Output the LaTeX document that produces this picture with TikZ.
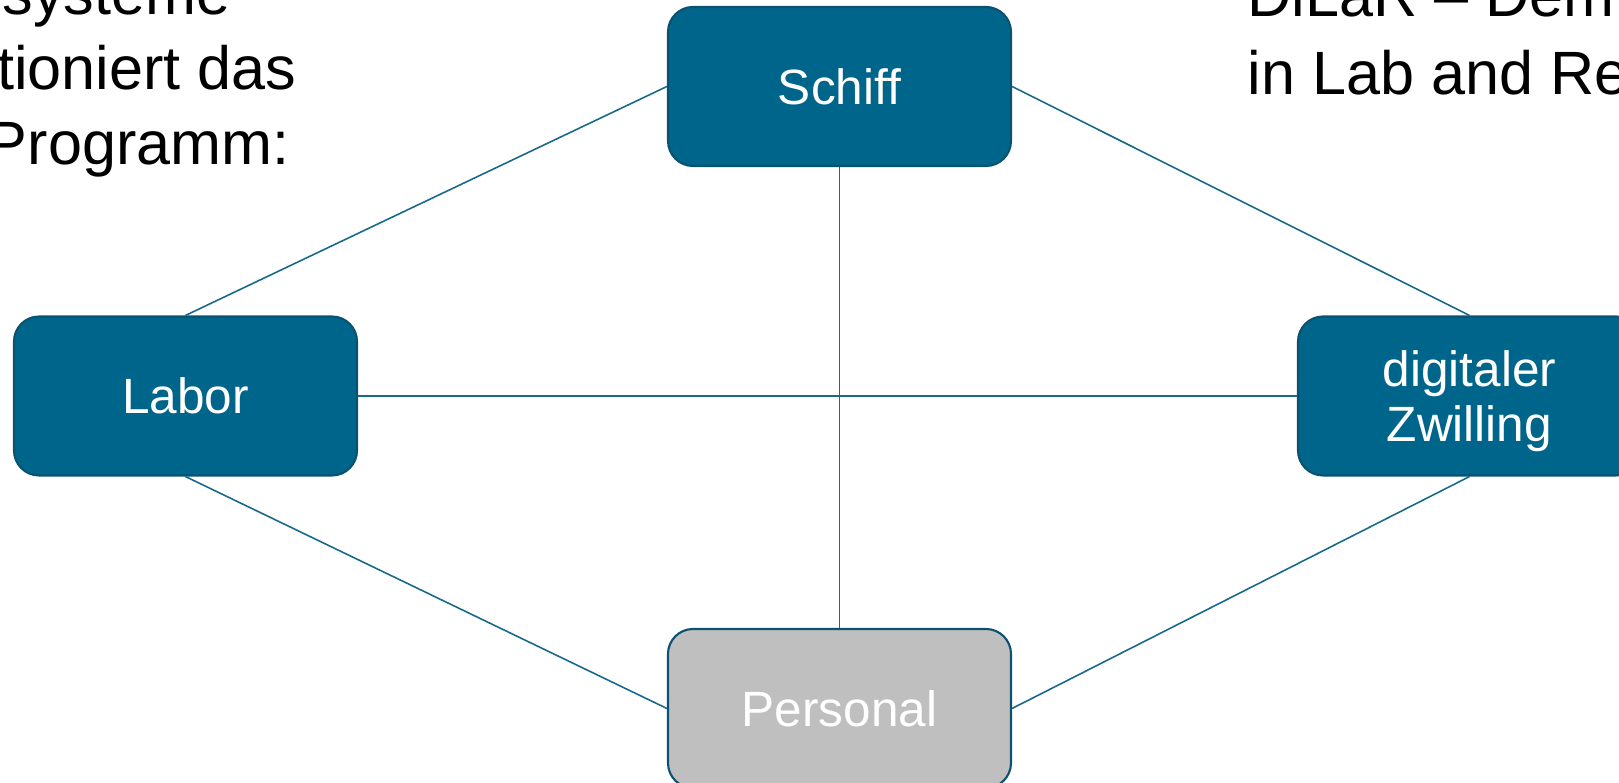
\documentclass[tikz,border=0pt]{standalone}
\usepackage{fontspec}
\setmainfont{Liberation Sans}
\definecolor{boxblue}{RGB}{0,101,138}
\definecolor{boxedge}{RGB}{10,82,112}
\definecolor{linkblue}{RGB}{24,104,140}
\definecolor{boxgrey}{RGB}{191,191,191}
\tikzset{
  item/.style={rectangle, rounded corners=0.25cm, minimum width=3.43cm,
    minimum height=1.59cm, fill=boxblue, draw=boxedge, line width=0.6pt,
    text=white, align=center, inner sep=0pt, text depth=0pt,
    font=\fontsize{14.1}{15.6}\selectfont},
  itemgrey/.style={item, fill=boxgrey},
  link/.style={draw=linkblue, line width=0.45pt},
  heading/.style={inner sep=0pt, text=black, font=\fontsize{17.4}{21.3}\selectfont}
}
\begin{document}
\begin{tikzpicture}
\useasboundingbox (0,0) rectangle (16.19,7.83);
\clip (0,0) rectangle (16.19,7.83);

% title lines, running off the edges
\node[heading, anchor=base east] (t1) at (2.31,7.68) {systeme};
\node[heading, anchor=base east] (t2) at (2.97,6.93) {tioniert das};
\node[heading, anchor=base east] (t3) at (2.90,6.18) {Programm:};
\node[heading, anchor=base west] (t4) at (12.47,7.66) {DiLaR – Dem};
\node[heading, anchor=base west] (t5) at (12.47,6.88) {in Lab and Re};

% the four parts
\node[item] (schiff) at (8.395,6.965) {Schiff};
\node[item] (labor) at (1.855,3.87) {Labor};
\node[item] (zwilling) at (14.695,3.87) {digitaler\\Zwilling};
\node[itemgrey] (personal) at (8.395,0.745) {Personal};

% links between them
\draw[link] (schiff.west) -- (labor.north);
\draw[link] (schiff.east) -- (zwilling.north);
\draw[link] (labor.south) -- (personal.west);
\draw[link] (zwilling.south) -- (personal.east);
\draw[link] (labor.east) -- (zwilling.west);
\draw[link] (schiff.south) -- (personal.north);
\end{tikzpicture}
\end{document}
